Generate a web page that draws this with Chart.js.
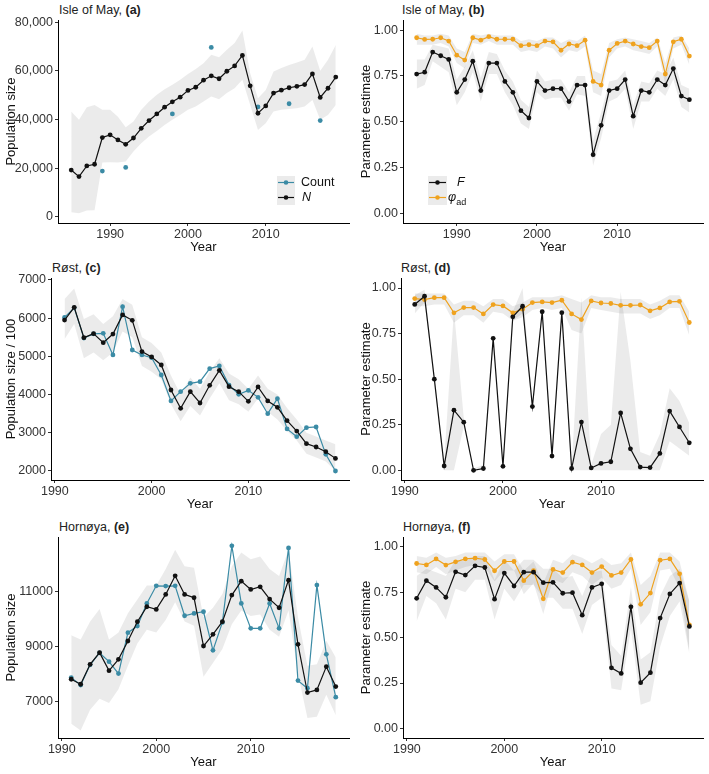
<!DOCTYPE html>
<html>
<head>
<meta charset="utf-8">
<script src="https://cdn.jsdelivr.net/npm/chart.js@4.4.0/dist/chart.umd.min.js"></script>
<style>
  body { margin: 0; background: #fff; width: 709px; height: 774px; position: relative; overflow: hidden;
         font-family: "Liberation Sans", Arial, sans-serif; }
  canvas { position: absolute; }
  .ttl { position: absolute; font-size: 12.5px; color: #222; white-space: nowrap; line-height: 14px; }
  .key { position: absolute; }
  .lab { position: absolute; font-size: 12.5px; color: #111; line-height: 14px; white-space: nowrap; }
</style>
</head>
<body>

<div class="ttl" style="left:59px;top:3px">Isle of May, <b>(a)</b></div>
<div class="ttl" style="left:402px;top:3px">Isle of May, <b>(b)</b></div>
<div class="ttl" style="left:52px;top:261px">Røst, <b>(c)</b></div>
<div class="ttl" style="left:401px;top:261px">Røst, <b>(d)</b></div>
<div class="ttl" style="left:59px;top:520px">Hornøya, <b>(e)</b></div>
<div class="ttl" style="left:403px;top:520px">Hornøya, <b>(f)</b></div>

<canvas id="pa" width="353" height="245" style="left:0;top:10px"></canvas>
<canvas id="pb" width="352" height="245" style="left:355px;top:10px"></canvas>
<canvas id="pc" width="353" height="244" style="left:0;top:268px"></canvas>
<canvas id="pd" width="352" height="244" style="left:355px;top:268px"></canvas>
<canvas id="pe" width="353" height="243" style="left:0;top:527px"></canvas>
<canvas id="pf" width="352" height="243" style="left:355px;top:527px"></canvas>

<!-- legend (a) -->
<svg class="key" style="left:277px;top:176px" width="18" height="29">
  <rect x="0" y="0" width="18" height="29" fill="rgba(0,0,0,0.08)"/>
  <line x1="1" y1="6.5" x2="17" y2="6.5" stroke="#3B8BA5" stroke-width="1.2"/>
  <circle cx="9" cy="6.5" r="2.3" fill="#3B8BA5"/>
  <line x1="1" y1="21.5" x2="17" y2="21.5" stroke="#111" stroke-width="1.2"/>
  <circle cx="9" cy="21.5" r="2.3" fill="#111"/>
</svg>
<div class="lab" style="left:301px;top:175px">Count</div>
<div class="lab" style="left:302px;top:190px"><i>N</i></div>

<!-- legend (b) -->
<svg class="key" style="left:428px;top:176px" width="19" height="29">
  <rect x="0" y="0" width="19" height="29" fill="rgba(0,0,0,0.08)"/>
  <line x1="1" y1="6.5" x2="18" y2="6.5" stroke="#111" stroke-width="1.2"/>
  <circle cx="9.5" cy="6.5" r="2.3" fill="#111"/>
  <line x1="1" y1="21.5" x2="18" y2="21.5" stroke="#EFA21E" stroke-width="1.2"/>
  <circle cx="9.5" cy="21.5" r="2.3" fill="#EFA21E"/>
</svg>
<div class="lab" style="left:457px;top:175px"><i>F</i></div>
<div class="lab" style="left:448px;top:190px"><i>φ</i><sub style="font-size:9px">ad</sub></div>

<script>
// ---- data ----
const mayYears = [1985,1986,1987,1988,1989,1990,1991,1992,1993,1994,1995,1996,1997,1998,1999,2000,2001,2002,
  2003,2004,2005,2006,2007,2008,2009,2010,2011,2012,2013,2014,2015,2016,2017,2018,2019];
const norYears = [1991,1992,1993,1994,1995,1996,1997,1998,1999,2000,2001,2002,2003,2004,2005,2006,2007,2008,
  2009,2010,2011,2012,2013,2014,2015,2016,2017,2018,2019];

// Isle of May
const mayN   = [19200,16500,20900,21600,32600,33700,31600,29800,32400,36400,39600,42300,45100,47300,49200,52000,53300,56200,
  58000,56800,59900,62100,66400,53900,42600,45600,50900,52100,53100,53700,54400,58800,49100,52900,57500];
const mayNLo = [1800,1400,2500,2700,22300,22400,22300,22700,26800,30200,33000,35300,37800,39900,41900,44000,45400,47400,
  49500,48400,50900,52900,56400,46000,35700,38500,43300,44000,44300,44700,45400,48100,39900,41900,46000];
const mayNHi = [43300,39900,45100,46000,44000,44000,41200,36800,39200,44000,47400,50200,52500,54300,56400,58800,60800,63200,
  66700,65700,68700,71500,76700,59100,48800,52200,59800,61200,62500,63500,64600,70100,60100,64600,70700];
const mayCountYears = [1989,1992,1998,2003,2009,2013,2017];
const mayCount = [18800,20300,42300,69700,45200,46500,39600];

const mayF   = [0.76,0.77,0.88,0.86,0.84,0.66,0.73,0.83,0.67,0.82,0.82,0.72,0.66,0.56,0.52,0.72,0.67,0.68,
  0.68,0.61,0.70,0.70,0.32,0.48,0.67,0.68,0.73,0.53,0.67,0.66,0.73,0.70,0.79,0.64,0.62];
const mayFLo = [0.68,0.70,0.83,0.80,0.77,0.59,0.66,0.77,0.61,0.76,0.76,0.66,0.59,0.49,0.46,0.66,0.62,0.63,
  0.63,0.56,0.65,0.64,0.26,0.41,0.61,0.63,0.68,0.46,0.61,0.61,0.68,0.64,0.73,0.58,0.55];
const mayFHi = [0.84,0.84,0.92,0.91,0.90,0.73,0.80,0.89,0.74,0.88,0.87,0.78,0.72,0.62,0.58,0.78,0.72,0.73,
  0.73,0.66,0.75,0.75,0.40,0.55,0.72,0.73,0.78,0.59,0.72,0.71,0.78,0.76,0.85,0.70,0.68];
const mayPhi   = [0.958,0.949,0.95,0.958,0.94,0.863,0.836,0.958,0.945,0.964,0.95,0.95,0.95,0.915,0.92,0.915,0.94,0.936,
  0.89,0.924,0.915,0.945,0.72,0.70,0.89,0.927,0.94,0.924,0.91,0.904,0.94,0.76,0.936,0.95,0.858];
const mayPhiLo = [0.92,0.92,0.92,0.93,0.91,0.82,0.79,0.93,0.92,0.94,0.92,0.92,0.92,0.88,0.89,0.88,0.91,0.90,
  0.85,0.89,0.88,0.91,0.66,0.64,0.85,0.90,0.91,0.89,0.88,0.87,0.91,0.70,0.90,0.92,0.81];
const mayPhiHi = [0.98,0.97,0.97,0.98,0.97,0.90,0.88,0.98,0.97,0.98,0.97,0.97,0.97,0.94,0.95,0.94,0.96,0.96,
  0.93,0.95,0.94,0.97,0.78,0.76,0.93,0.95,0.96,0.95,0.94,0.93,0.96,0.82,0.96,0.97,0.90];

// Røst (population / 100)
const rostN   = [5950,6285,5490,5595,5360,5585,6085,5945,5125,4985,4775,4120,3640,4077,3780,4243,4635,4207,
  4077,3823,4200,3833,3667,3318,3045,2715,2628,2505,2330];
const rostNLo = [5450,5850,4950,5100,4900,5100,5650,5500,4750,4600,4400,3750,3300,3700,3450,3900,4300,3850,
  3750,3550,3900,3550,3350,3050,2800,2450,2350,2250,2000];
const rostNHi = [6500,6780,5980,6100,5850,6050,6500,6350,5500,5350,5100,4500,4000,4450,4150,4600,4950,4550,
  4400,4150,4500,4150,4000,3650,3350,3000,2900,2800,2700];
const rostCount = [6020,6270,5480,5590,5604,5037,6302,5167,5037,4967,4513,3833,4077,4295,4338,4679,4749,4250,
  4007,4110,3928,3500,3893,3100,2899,3135,3152,2436,2000];

const rostF   = [0.91,0.955,0.50,0.024,0.33,0.264,0.00,0.01,0.724,0.022,0.842,0.90,0.35,0.87,0.078,0.865,0.01,0.265,
  0.013,0.038,0.047,0.315,0.118,0.018,0.015,0.093,0.325,0.238,0.151];
const rostFLo = [0.86,0.92,0.48,0.00,0.00,0.24,0.00,0.00,0.70,0.00,0.82,0.86,0.32,0.85,0.05,0.84,0.00,0.00,
  0.00,0.00,0.00,0.00,0.00,0.00,0.00,0.00,0.16,0.12,0.08];
const rostFHi = [0.96,0.99,0.53,0.05,0.88,0.29,0.01,0.03,0.75,0.04,0.87,1.00,0.38,0.89,0.10,0.89,0.02,0.95,
  0.03,0.20,0.25,0.98,0.60,0.10,0.08,0.20,0.45,0.38,0.26];
const rostPhi   = [0.942,0.936,0.947,0.947,0.864,0.893,0.893,0.858,0.909,0.902,0.864,0.884,0.92,0.924,0.92,0.933,0.858,0.827,
  0.929,0.918,0.915,0.905,0.905,0.907,0.875,0.891,0.924,0.927,0.811];
const rostPhiLo = [0.90,0.90,0.91,0.91,0.81,0.85,0.85,0.81,0.87,0.86,0.82,0.84,0.88,0.89,0.88,0.89,0.77,0.75,
  0.89,0.88,0.87,0.86,0.86,0.86,0.83,0.85,0.89,0.89,0.74];
const rostPhiHi = [0.97,0.97,0.97,0.97,0.91,0.93,0.93,0.90,0.94,0.94,0.90,0.92,0.95,0.95,0.95,0.96,0.94,0.92,
  0.96,0.95,0.95,0.94,0.94,0.94,0.91,0.93,0.96,0.96,0.87];

// Hornøya
const hornN   = [7807,7627,8349,8771,8120,8530,9193,9892,10434,10337,10880,11554,10880,10759,9012,9434,9892,10855,
  11361,11060,11157,10711,10398,11398,9072,7325,7422,8265,7542];
const hornNLo = [6200,5950,6700,7100,6950,7450,8300,9100,9600,9500,9950,10600,9900,9750,7900,8400,8900,9800,
  10300,10100,10150,9600,9350,10300,8000,6400,6450,7250,6500];
const hornNHi = [9400,9250,9900,10350,9250,9500,10200,10700,11200,11200,11800,12500,11900,11850,10050,10400,10900,11900,
  12400,12150,12250,11800,11550,12500,10050,8300,8350,9200,8600];
const hornCount = [7867,7600,8330,8760,8446,8012,9494,9735,10554,11193,11181,11193,10108,10193,10253,8855,9867,12639,
  10554,9651,9651,10554,9651,12566,7759,7482,11217,8711,7157];

const hornF   = [0.717,0.814,0.777,0.723,0.863,0.845,0.896,0.887,0.712,0.856,0.785,0.861,0.861,0.803,0.805,0.745,0.748,0.624,
  0.777,0.797,0.334,0.303,0.67,0.252,0.307,0.608,0.741,0.801,0.562];
const hornFLo = [0.59,0.73,0.69,0.60,0.77,0.75,0.82,0.82,0.60,0.77,0.70,0.79,0.79,0.72,0.72,0.66,0.66,0.52,
  0.68,0.72,0.22,0.21,0.55,0.13,0.15,0.45,0.62,0.70,0.41];
const hornFHi = [0.84,0.88,0.86,0.84,0.93,0.92,0.95,0.95,0.82,0.93,0.87,0.93,0.93,0.88,0.88,0.83,0.84,0.73,
  0.86,0.87,0.46,0.40,0.78,0.38,0.42,0.73,0.84,0.88,0.70];
const hornPhi   = [0.909,0.901,0.934,0.90,0.918,0.934,0.938,0.931,0.869,0.920,0.920,0.814,0.869,0.714,0.876,0.859,0.916,0.901,
  0.859,0.892,0.843,0.859,0.931,0.684,0.746,0.927,0.934,0.852,0.571];
const hornPhiLo = [0.86,0.85,0.89,0.85,0.87,0.89,0.90,0.89,0.81,0.87,0.87,0.74,0.80,0.63,0.82,0.80,0.86,0.84,
  0.79,0.83,0.77,0.79,0.88,0.57,0.64,0.87,0.88,0.77,0.42];
const hornPhiHi = [0.95,0.94,0.97,0.94,0.95,0.97,0.97,0.97,0.92,0.96,0.96,0.87,0.92,0.80,0.93,0.91,0.96,0.94,
  0.91,0.94,0.90,0.91,0.97,0.79,0.84,0.97,0.97,0.92,0.70];

const xTicksMay = [1990, 2000, 2010];
const xTicksNor = [1990, 2000, 2010];
const paramTicks = [0, 0.25, 0.5, 0.75, 1];

// ---- styles ----
const BLACK = '#111111', BLUE = '#3B8BA5', ORANGE = '#EFA21E', BAND = 'rgba(0,0,0,0.08)';
Chart.defaults.font.family = '"Liberation Sans", Arial, sans-serif';

function pts(xs, ys) {
  return xs.map((x, i) => ({ x: x, y: ys[i] }));
}

function line(xs, ys, color, showLine) {
  return {
    data: pts(xs, ys), borderColor: color, backgroundColor: color,
    borderWidth: 1.2, pointRadius: 2.4, pointBorderWidth: 0, pointHoverRadius: 2.4,
    showLine: showLine !== false, fill: false, tension: 0
  };
}

// two datasets: lower edge, then upper edge filled down to it
function band(xs, lo, hi) {
  return [
    { data: pts(xs, lo), borderWidth: 0, pointRadius: 0, fill: false, borderColor: 'rgba(0,0,0,0)' },
    { data: pts(xs, hi), borderWidth: 0, pointRadius: 0, fill: '-1', borderColor: 'rgba(0,0,0,0)', backgroundColor: BAND }
  ];
}

function panel(id, o) {
  const tickFont = { size: 12.5 };
  const axisGrid = { drawOnChartArea: false, tickLength: 3, tickColor: '#333', tickWidth: 1 };
  return new Chart(document.getElementById(id), {
    type: 'line',
    data: { datasets: o.datasets },
    options: {
      responsive: false,
      animation: false,
      layout: { padding: { top: 10, right: 4, left: 0, bottom: 0 } },
      plugins: { legend: { display: false }, tooltip: { enabled: false } },
      scales: {
        x: {
          type: 'linear', min: o.xmin, max: o.xmax,
          afterBuildTicks: s => { s.ticks = o.xticks.map(v => ({ value: v })); },
          afterFit: s => { s.height = 32; },
          grid: axisGrid,
          border: { color: '#000', width: 1 },
          ticks: { color: '#333', font: tickFont, padding: 1, maxRotation: 0, autoSkip: false, callback: v => String(v) },
          title: { display: true, text: 'Year', color: '#111', font: { size: 13 }, padding: { top: 0, bottom: 0 } }
        },
        y: {
          type: 'linear', min: o.ymin, max: o.ymax,
          afterBuildTicks: s => { s.ticks = o.yticks.map(v => ({ value: v })); },
          afterFit: s => { s.width = o.yw; },
          grid: axisGrid,
          border: { color: '#000', width: 1 },
          ticks: { color: '#333', font: tickFont, padding: 2, autoSkip: false, callback: o.yfmt },
          title: { display: true, text: o.ytitle, color: '#111', font: { size: 13 }, padding: { top: 4, bottom: 0 } }
        }
      }
    }
  });
}

const fmtComma = v => v.toLocaleString('en-US');
const fmt2 = v => v.toFixed(2);
const fmtInt = v => String(v);

panel('pa', {
  yw: 58, xmin: 1983.3, xmax: 2020.7, ymin: -2600, ymax: 81000,
  xticks: xTicksMay, yticks: [0, 20000, 40000, 60000, 80000], yfmt: fmtComma, ytitle: 'Population size',
  datasets: [line(mayYears, mayN, BLACK), line(mayCountYears, mayCount, BLUE, false),
             ...band(mayYears, mayNLo, mayNHi)]
});

panel('pb', {
  yw: 48, xmin: 1983.3, xmax: 2020.7, ymin: -0.053, ymax: 1.055,
  xticks: xTicksMay, yticks: paramTicks, yfmt: fmt2, ytitle: 'Parameter estimate',
  datasets: [line(mayYears, mayF, BLACK), line(mayYears, mayPhi, ORANGE),
             ...band(mayYears, mayFLo, mayFHi), ...band(mayYears, mayPhiLo, mayPhiHi)]
});

panel('pc', {
  yw: 51, xmin: 1989.6, xmax: 2020.4, ymin: 1764, ymax: 7052,
  xticks: xTicksNor, yticks: [2000, 3000, 4000, 5000, 6000, 7000], yfmt: fmtInt, ytitle: 'Population size / 100',
  datasets: [line(norYears, rostN, BLACK), line(norYears, rostCount, BLUE),
             ...band(norYears, rostNLo, rostNHi)]
});

panel('pd', {
  yw: 46, xmin: 1989.6, xmax: 2020.4, ymin: -0.053, ymax: 1.055,
  xticks: xTicksNor, yticks: paramTicks, yfmt: fmt2, ytitle: 'Parameter estimate',
  datasets: [line(norYears, rostF, BLACK), line(norYears, rostPhi, ORANGE),
             ...band(norYears, rostFLo, rostFHi), ...band(norYears, rostPhiLo, rostPhiHi)]
});

panel('pe', {
  yw: 58, xmin: 1989.6, xmax: 2020.4, ymin: 5680, ymax: 12960,
  xticks: xTicksNor, yticks: [7000, 9000, 11000], yfmt: fmtInt, ytitle: 'Population size',
  datasets: [line(norYears, hornN, BLACK), line(norYears, hornCount, BLUE),
             ...band(norYears, hornNLo, hornNHi)]
});

panel('pf', {
  yw: 48, xmin: 1989.6, xmax: 2020.4, ymin: -0.053, ymax: 1.055,
  xticks: xTicksNor, yticks: paramTicks, yfmt: fmt2, ytitle: 'Parameter estimate',
  datasets: [line(norYears, hornF, BLACK), line(norYears, hornPhi, ORANGE),
             ...band(norYears, hornFLo, hornFHi), ...band(norYears, hornPhiLo, hornPhiHi)]
});
</script>
</body>
</html>
